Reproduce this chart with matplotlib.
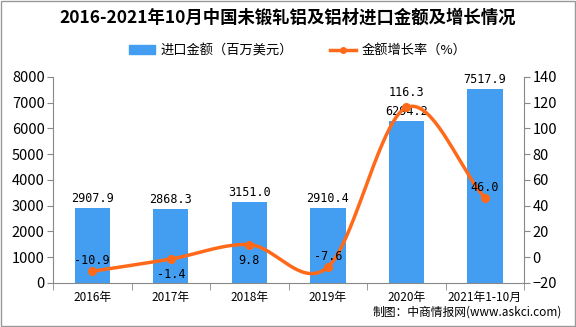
import numpy as np
import matplotlib
matplotlib.use("Agg")
import matplotlib.pyplot as plt
from matplotlib.lines import Line2D
from matplotlib.patches import Patch, Rectangle

plt.rcParams['font.family'] = ['Noto Sans CJK SC', 'DejaVu Sans']

categories = ["2016年", "2017年", "2018年", "2019年", "2020年", "2021年1-10月"]
amount = [2907.9, 2868.3, 3151.0, 2910.4, 6294.2, 7517.9]
growth = [-10.9, -1.4, 9.8, -7.6, 116.3, 46.0]
left_ticks = [0, 1000, 2000, 3000, 4000, 5000, 6000, 7000, 8000]
right_ticks = [-20, 0, 20, 40, 60, 80, 100, 120, 140]

bar_color = "#439DF0"
line_color = "#FF6A1A"

fig = plt.figure(figsize=(5.76, 3.27), dpi=100)
ax = fig.add_axes([0.092, 0.1346, 0.818, 0.63])
ax2 = ax.twinx()

x = np.arange(len(categories))
ax.bar(x, amount, width=0.45, color=bar_color, zorder=2)
ax.set_xlim(-0.5, len(categories) - 0.5)
ax.set_ylim(0, 8000)
ax.set_yticks(left_ticks)
ax.set_xticks(x)
ax.set_xticklabels(categories, fontsize=8.5)
ax.set_xticks(np.arange(-0.5, len(categories)), minor=True)
ax.tick_params(axis='x', which='major', length=0, pad=6)
ax.tick_params(axis='x', which='minor', length=5, color='#888888')
ax.tick_params(axis='y', length=4, color='#888888', labelsize=10.5, pad=2)
for s in ['top', 'right']:
    ax.spines[s].set_visible(False)
for s in ['left', 'bottom']:
    ax.spines[s].set_color('#888888')

for xi, v in zip(x, amount):
    ax.text(xi, v + 120, f"{v:.1f}", ha='center', va='bottom', fontsize=8.5,
            family='DejaVu Sans Mono', zorder=5)

# smooth curve through points (Catmull-Rom)
def catmull(xs, ys, n=40):
    xs = np.asarray(xs, float); ys = np.asarray(ys, float)
    px = np.concatenate([[2 * xs[0] - xs[1]], xs, [2 * xs[-1] - xs[-2]]])
    py = np.concatenate([[2 * ys[0] - ys[1]], ys, [2 * ys[-1] - ys[-2]]])
    ox, oy = [], []
    for i in range(1, len(px) - 2):
        t = np.linspace(0, 1, n)
        for arr, out in ((px, ox), (py, oy)):
            p0, p1, p2, p3 = arr[i - 1], arr[i], arr[i + 1], arr[i + 2]
            out.extend(0.5 * ((2 * p1) + (-p0 + p2) * t + (2 * p0 - 5 * p1 + 4 * p2 - p3) * t ** 2
                              + (-p0 + 3 * p1 - 3 * p2 + p3) * t ** 3))
    return np.array(ox), np.array(oy)

sx, sy = catmull(x, growth)
ax2.plot(sx, sy, color=line_color, lw=2.5, zorder=3)
ax2.plot(x, growth, 'o', color=line_color, ms=5.5, zorder=4)
ax2.set_ylim(-20, 140)
ax2.set_yticks(right_ticks)
ax2.tick_params(axis='y', length=4, color='#888888', labelsize=10.5, pad=2)
for s in ['top', 'left', 'bottom']:
    ax2.spines[s].set_visible(False)
ax2.spines['right'].set_color('#888888')

offsets = [8, -12, -12, 8, 12, 8]
for xi, v, o in zip(x, growth, offsets):
    ax2.text(xi, v + o, f"{v:.1f}", ha='center', va='center', fontsize=8.5,
             family='DejaVu Sans Mono', zorder=5)

fig.text(0.5, 0.945, "2016-2021年10月中国未锻轧铝及铝材进口金额及增长情况",
         ha='center', va='center', fontsize=12.5, fontweight='bold')

handles = [Patch(color=bar_color),
           Line2D([0], [0], color=line_color, lw=2.5, marker='o', ms=4)]
fig.legend(handles, ["进口金额（百万美元）", "金额增长率（%）"], loc='center',
           bbox_to_anchor=(0.517, 0.845), ncol=2, frameon=False, fontsize=9.5,
           handlelength=2.0, handleheight=0.6, columnspacing=2.8, handletextpad=0.4)

fig.text(0.975, 0.045, "制图：中商情报网(www.askci.com)", ha='right', va='center',
         fontsize=8.5)

fig.add_artist(Rectangle((0.001, 0.002), 0.997, 0.995, transform=fig.transFigure,
                         fill=False, edgecolor='#999999', lw=1))

fig.savefig("out.png", dpi=100)
